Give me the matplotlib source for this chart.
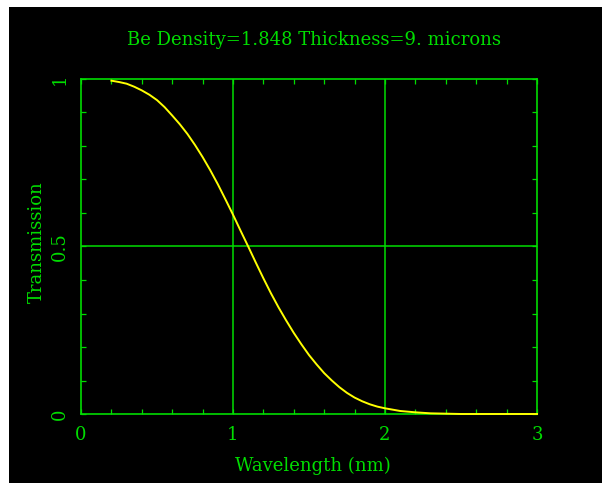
import matplotlib
matplotlib.use("Agg")
import matplotlib.pyplot as plt
from matplotlib.patches import Rectangle
from matplotlib.ticker import MultipleLocator, FixedLocator

# Be filter transmission vs wavelength (nm)
wavelength = [0.20, 0.25, 0.30, 0.35, 0.40, 0.45, 0.50, 0.55, 0.60, 0.65,
              0.70, 0.75, 0.80, 0.85, 0.90, 0.95, 1.00, 1.05, 1.10, 1.15,
              1.20, 1.25, 1.30, 1.35, 1.40, 1.45, 1.50, 1.55, 1.60, 1.65,
              1.70, 1.75, 1.80, 1.85, 1.90, 1.95, 2.00, 2.05, 2.10, 2.20,
              2.30, 2.40, 2.50, 3.00]
transmission = [0.995, 0.991, 0.986, 0.977, 0.966, 0.953, 0.937, 0.916, 0.891,
                0.865, 0.836, 0.803, 0.767, 0.728, 0.686, 0.641, 0.595, 0.547,
                0.500, 0.452, 0.405, 0.360, 0.318, 0.279, 0.242, 0.208, 0.176,
                0.148, 0.122, 0.100, 0.080, 0.063, 0.049, 0.038, 0.029, 0.022,
                0.017, 0.013, 0.009, 0.005, 0.002, 0.001, 0.0, 0.0]

x_ticks = [0, 1, 2, 3]
y_ticks = [0, 0.5, 1]
y_tick_labels = ["0", "0.5", "1"]

title = "Be Density=1.848 Thickness=9. microns"
green = "#00dd00"
font = "DejaVu Serif"
fs = 13

W, H = 602, 483
fig = plt.figure(figsize=(W / 100, H / 100), dpi=100)
fig.patch.set_facecolor("white")
fig.patches.append(Rectangle((9 / W, 0), 1 - 9 / W, (H - 7) / H,
                             transform=fig.transFigure, facecolor="black",
                             edgecolor="none", zorder=-10))

ax = fig.add_axes([81 / W, (H - 414) / H, 456 / W, 335 / H])
ax.set_facecolor("black")
ax.plot(wavelength, transmission, color="#ffff00", lw=1.4, zorder=3,
        clip_on=False)

ax.set_xlim(0, 3)
ax.set_ylim(0, 1)
for s in ax.spines.values():
    s.set_color(green)
    s.set_linewidth(1.2)

ax.axvline(1, color=green, lw=1.1, zorder=2)
ax.axvline(2, color=green, lw=1.1, zorder=2)
ax.axhline(0.5, color=green, lw=1.1, zorder=2)

ax.xaxis.set_major_locator(FixedLocator(x_ticks))
ax.yaxis.set_major_locator(FixedLocator(y_ticks))
ax.xaxis.set_minor_locator(MultipleLocator(0.2))
ax.yaxis.set_minor_locator(MultipleLocator(0.1))
ax.set_xticklabels([str(t) for t in x_ticks])
ax.set_yticklabels(y_tick_labels, rotation=90, va="center")
ax.tick_params(which="both", direction="in", colors=green, top=True,
               right=True, length=3.8, width=0.9, labelsize=fs, pad=9)
for lbl in ax.get_xticklabels() + ax.get_yticklabels():
    lbl.set_fontfamily(font)

fig.text(313.5 / W, 1 - 40 / H, title, color=green, fontsize=fs,
         family=font, ha="center", va="center")
fig.text(313 / W, 1 - 466 / H, "Wavelength (nm)", color=green, fontsize=fs,
         family=font, ha="center", va="center")
fig.text(37 / W, 1 - 242 / H, "Transmission", color=green, fontsize=fs,
         family=font, ha="center", va="center", rotation=90)

fig.savefig("out.png", dpi=100, facecolor=fig.get_facecolor())
